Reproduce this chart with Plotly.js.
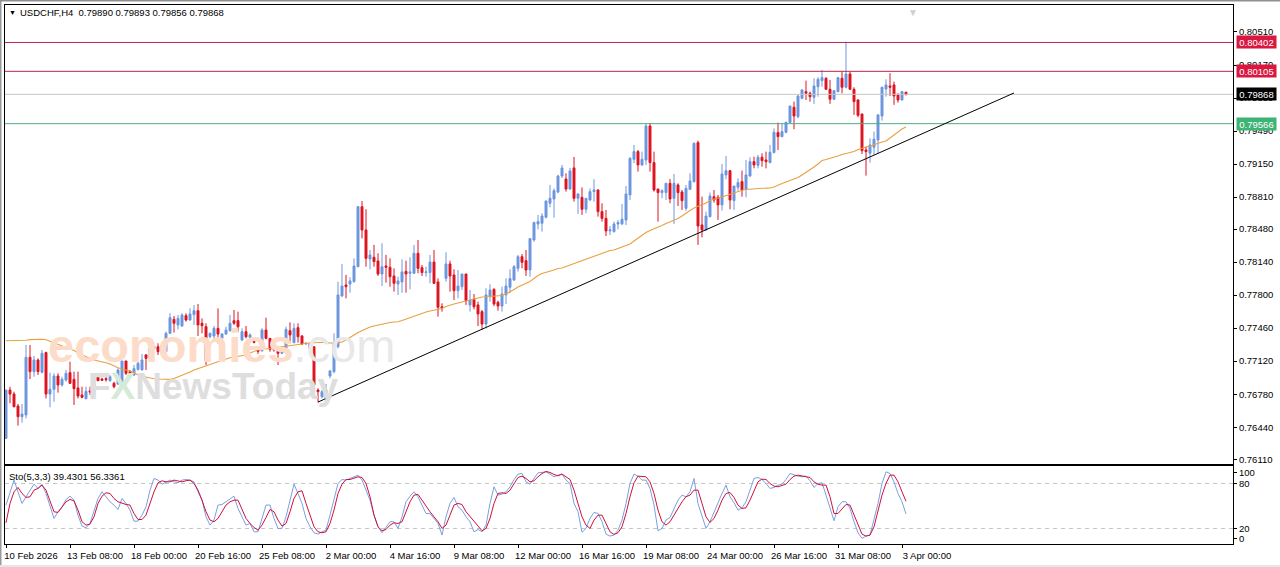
<!DOCTYPE html>
<html><head><meta charset="utf-8">
<script src="https://cdn.plot.ly/plotly-3.0.1.min.js"></script>
<style>html,body{margin:0;padding:0;background:#fff;overflow:hidden}#chart{width:1280px;height:567px}</style>
</head><body><div id="chart"></div>
<script>
// Prices in 1e-5 units, one per H4 bar
const openP=[76325,76823,76782,76658,76548,76566,77160,77012,77132,77005,
77208,76782,76830,76967,76875,76926,77002,76933,76844,76772,
76734,76813,76806,76960,76936,76940,76919,76892,76885,76909,
77122,77012,76978,77036,77029,77184,77149,77245,77269,77228,
77218,77407,77551,77493,77482,77589,77544,77599,77640,77510,
77475,77372,77379,77458,77355,77400,77434,77537,77537,77338,
77424,77366,77324,77235,77228,77441,77355,77252,77228,77201,
77218,77434,77311,77465,77379,77297,77304,77269,76823,76754,
76737,76967,77012,77269,77791,77905,77915,77939,78093,78711,
78471,78172,78190,78152,78018,78100,78087,77997,77915,77936,
78045,78025,78025,78231,78083,78032,78032,78141,77936,77681,
77973,78121,78008,77846,77887,78018,77699,77757,77699,77630,
77503,77784,77860,77726,77688,77802,77881,77956,78076,78196,
78155,78059,78368,78533,78540,78602,78746,78790,78862,79027,
78996,78893,79110,78797,78807,78684,78780,78866,78883,78660,
78591,78461,78454,78533,78533,78574,78832,79199,79278,79141,
79192,79542,79165,78893,78856,78856,78952,78797,78935,78862,
78694,78890,78969,79371,78523,78471,78608,78814,78808,78729,
79038,79082,78773,78911,78969,78890,79027,79175,79137,79220,
79192,79165,79268,79474,79432,79477,79577,79735,79638,79827,
79896,79879,79838,79947,80009,80033,79920,79817,79896,80033,
79941,80078,79920,79810,79666,79295,79261,79323,79398,79645,
79923,79954,79965,79862,79810,79890];
const highP=[76823,76857,76806,76679,76679,77287,77287,77173,77149,77235,
77218,77002,76995,76995,76960,77029,77115,77012,77012,76857,
76857,76857,76943,76978,76950,76960,76978,76909,77046,77122,
77122,77029,77081,77115,77194,77194,77287,77287,77304,77242,
77424,77613,77585,77596,77613,77613,77664,77699,77709,77561,
77510,77414,77482,77664,77407,77475,77596,77647,77630,77458,
77482,77407,77338,77249,77458,77568,77355,77269,77252,77235,
77475,77520,77510,77510,77390,77311,77311,77269,76840,76823,
76885,77029,77407,77938,78121,78008,77984,78179,78718,78770,
78684,78265,78317,78231,78334,78214,78179,78076,77990,78169,
78155,78190,78317,78368,78111,78093,78214,78265,77973,77716,
78241,78155,78066,78059,78018,78018,77853,77812,77733,77647,
77870,77911,77870,77743,77887,77973,78066,78111,78214,78224,
78265,78385,78557,78626,78643,78773,78935,78900,79038,79141,
79055,79110,79223,78849,78910,78797,78900,78993,78890,78746,
78677,78512,78557,78574,78739,78924,79220,79347,79295,79278,
79563,79570,79278,78893,78890,78952,78996,79048,78952,78883,
78935,79055,79371,79391,78814,78660,78856,78883,78832,79151,
79233,79089,78924,79003,79082,79192,79220,79226,79244,79261,
79278,79347,79518,79577,79570,79587,79748,79793,79862,79920,
80009,79896,80033,80044,80119,80044,80016,79913,80044,80102,
80411,80102,79941,79817,79666,79329,79415,79484,79666,79947,
80023,80085,79999,79879,79903,79893];
const lowP=[76325,76686,76645,76456,76487,76531,76936,76960,76978,76995,
76737,76645,76703,76796,76857,76909,76885,76669,76737,76737,
76727,76772,76772,76916,76916,76909,76909,76840,76875,76899,
76978,76967,76967,77022,77029,77029,77132,77235,77184,77184,
77208,77400,77414,77448,77475,77527,77537,77493,77379,77407,
77081,77355,77321,77304,77287,77390,77424,77493,77424,77331,
77355,77355,77304,77194,77218,77345,77218,77218,77081,77194,
77201,77304,77304,77311,77287,77290,77194,76806,76696,76737,
76720,76943,76995,77252,77784,77767,77826,77929,78087,78385,
78093,78066,78093,77997,77894,77929,77887,77836,77802,77826,
77826,77860,78018,78025,77997,77990,77922,77915,77578,77630,
77939,77836,77750,77767,77853,77699,77630,77654,77482,77441,
77458,77733,77688,77640,77630,77709,77819,77946,78042,78076,
77997,77990,78351,78478,78454,78591,78705,78598,78849,79007,
78866,78883,78763,78636,78626,78643,78773,78763,78608,78557,
78409,78420,78444,78478,78523,78523,78780,79158,79072,79130,
79141,79072,78866,78557,78797,78780,78746,78533,78718,78677,
78670,78883,78959,78317,78396,78464,78602,78753,78574,78670,
78993,78684,78677,78876,78814,78808,79020,79106,79106,79123,
79106,79158,79261,79295,79426,79467,79570,79508,79621,79817,
79810,79793,79769,79844,79947,79913,79769,79810,79889,79879,
79930,79913,79656,79632,79254,79031,79165,79244,79261,79597,
79844,79851,79759,79783,79803,79856];
const closeP=[76823,76782,76651,76548,76576,77160,77012,77132,77012,77201,
76782,76830,76967,76875,76933,76995,76892,76837,76761,76748,
76809,76803,76926,76919,76923,76930,76960,76857,77029,77122,
76995,76988,77043,77098,77132,77149,77252,77276,77218,77208,
77407,77568,77510,77561,77596,77544,77606,77640,77493,77486,
77125,77407,77458,77400,77400,77441,77510,77510,77475,77424,
77372,77390,77314,77221,77441,77355,77242,77235,77201,77218,
77448,77390,77458,77372,77297,77304,77249,76875,76806,76806,
76823,77019,77304,77802,77894,77887,77946,78100,78711,78471,
78179,78214,78145,78018,78093,78087,77990,77922,77946,78039,
78018,78039,78231,78076,78032,78039,78141,77922,77675,77668,
78121,77997,77846,77894,78018,77743,77750,77681,77606,77503,
77802,77853,77709,77688,77812,77894,77970,78093,78196,78138,
78059,78382,78547,78557,78615,78770,78797,78876,79027,79110,
78893,79079,78797,78842,78684,78797,78866,78883,78660,78591,
78461,78471,78533,78547,78581,78842,79209,79278,79141,79199,
79542,79165,78883,78856,78876,78952,78790,78952,78856,78773,
78900,78976,79364,78512,78471,78615,78821,78780,78729,79048,
79082,78780,78924,78959,78883,79038,79175,79141,79220,79185,
79175,79271,79477,79432,79484,79580,79748,79645,79851,79913,
79879,79844,79954,80023,80040,79920,79817,79906,80040,79941,
80078,79920,79793,79652,79288,79278,79347,79405,79656,79941,
79965,79941,79851,79810,79896,79868];
const maP=[77331,77331,77331,77331,77332,77335,77342,77345,77345,77345,
77340,77325,77312,77297,77281,77266,77253,77230,77204,77183,
77163,77147,77132,77124,77113,77104,77091,77070,77053,77039,
77032,77019,76998,76977,76965,76955,76947,76939,76936,76934,
76933,76933,76941,76957,76972,76993,77008,77029,77044,77060,
77075,77088,77101,77114,77129,77142,77156,77163,77168,77173,
77183,77204,77220,77235,77240,77245,77250,77256,77266,77271,
77276,77281,77286,77292,77297,77304,77309,77312,77313,77314,
77309,77305,77305,77309,77317,77338,77367,77389,77415,77436,
77456,77472,77482,77492,77503,77511,77518,77523,77526,77539,
77554,77570,77585,77601,77614,77626,77637,77647,77652,77662,
77683,77698,77709,77719,77729,77740,77750,77765,77776,77781,
77783,77786,77789,77791,77796,77812,77832,77858,77884,77904,
77920,77941,77971,78002,78023,78033,78044,78059,78074,78080,
78095,78110,78126,78141,78155,78167,78183,78198,78213,78229,
78244,78260,78265,78280,78296,78311,78327,78358,78389,78419,
78445,78466,78481,78497,78517,78538,78553,78569,78589,78615,
78646,78672,78698,78713,78728,78749,78775,78790,78801,78811,
78826,78842,78857,78873,78881,78888,78893,78896,78898,78901,
78902,78904,78914,78934,78950,78965,78981,78996,79012,79037,
79063,79089,79120,79151,79187,79197,79207,79223,79233,79249,
79259,79269,79280,79300,79316,79326,79336,79352,79367,79377,
79388,79419,79449,79480,79511,79532];
const stoK=[51.2,68.9,84.5,68.9,53.4,62.3,71.1,79.1,73.4,79.1,66.7,48.9,33.4,42.3,48.9,58.7,63.1,57.8,37.8,23.2,
21,26.7,44.5,60,68.9,62.3,55.6,51.2,45.4,60,53.4,44.5,29.8,29.8,37.8,48.9,71.1,86.7,84.5,79.1,
82.2,84.5,82.2,80.9,84.5,85.3,84.5,82.2,68.9,57.8,35.6,24.5,31.2,51.2,52,55.6,58.7,63.1,46.7,34.7,
24.5,26.7,15.6,15.6,33.4,51.2,51.2,33.4,20.1,20.1,35.6,55.6,79.1,66.7,53.4,33.4,22.3,14.3,12.5,15.6,
17.8,37.8,57.8,80,85.3,84.5,86.7,88.9,91.1,84.5,71.1,57.8,37.8,22.3,14.3,22.3,29,29,20.1,35.6,
55.6,63.1,68.9,62.3,51.2,40,40,33.4,26.7,11.2,35.6,53.4,61.4,48.9,
44.5,35.6,29,15.6,18.7,15.6,24.5,53.4,75.6,64.5,65.8,68.9,75.6,85.3,92.5,93.3,82.2,79.1,86.7,94.2,
94.7,95.6,92.5,88.9,91.1,92.5,84.5,80,53.4,42.3,14.8,20.1,33.4,41.4,40,29,12.5,9.9,11.2,17.8,
31.2,53.4,80,92.5,89.8,84.5,84.5,73.4,51.2,17,20.1,31.2,34.7,46.7,57.8,64.5,62.3,68.9,86.7,53.4,
35.6,20.1,29,42.3,55.6,66.7,77.8,62.3,54.3,44.5,47.6,55.6,71.1,86.7,88,85.3,80,73.4,74.7,77.8,
79.1,85.3,93.3,91.1,89.8,88.9,89.8,83.6,74.7,80,80.9,64.5,46.7,30.3,48.9,55.6,55.6,46.7,29,14.3,
6.8,9.9,11.2,31.2,53.4,80,95.6,93.3,82.2,66.7,55.6,39.43];
const stoD=[27.6,53.4,68.9,74.7,66.7,61.4,62.3,71.1,73.4,77.8,71.1,55.6,42.3,41.4,48.9,55.6,58.7,56.9,44.5,29,
24.5,25.9,35.6,53.4,63.1,67.6,66.7,60,55.6,53.4,52,51.2,40,32,32,37.8,53.4,68.9,80.9,83.6,
82.2,82.2,84.5,83.6,82.2,83.6,84.5,80,71.1,57.8,42.3,31.2,29,33.4,42.3,51.2,55.6,57.8,57.8,46.7,
33.4,26.7,21.4,17.8,24.5,34.7,45.4,42.3,31.2,23.2,26.7,42.3,60,68.9,70.3,53.4,37.8,22.3,15.6,14.3,
15.6,26.7,44.5,66.7,79.1,85.3,85.3,86.7,88.9,88,80,62.3,37.8,22.3,17,18.7,24.5,27.6,26.7,29,
42.3,55.6,64.5,65.4,57.8,49.8,42.3,35.6,29,20.1,24.5,37.8,51.2,53.4,
52,42.3,35.6,29,22.3,17,20.1,33.4,53.4,66.7,67.6,66.7,71.1,79.1,88,89.8,86.7,82.2,83.6,88.9,
93.3,96,94.7,92,90.2,92.5,88.9,85.3,71.1,53.4,35.6,24.5,20.1,31.2,37.8,37.8,26.7,15.6,12.1,14.3,
22.3,40,62.3,80.9,89.8,89.8,88.9,82.2,66.7,44.5,29,24.5,29,37.8,46.7,55.6,62.3,64.5,71.1,71.1,
53.4,35.6,28.1,33.4,44.5,57.8,66.7,68,61.4,51.2,46.7,47.6,57.8,71.1,82.2,85.8,85.3,80,76.5,75.6,
77.8,79.1,85.3,89.8,91.1,90.2,89.8,88,82.2,79.1,77.8,77.8,62.3,40,40,46.7,52,51.2,37.8,24.5,
12.5,9.9,11.2,22.3,42.3,64.5,80,91.1,91.1,82.2,68.9,56.34];
const priceTicks=[0.8051,0.8017,0.7983,0.7949,0.7915,0.7881,0.7848,0.7814,0.778,0.7746,0.7712,0.7678,0.7644,0.7611];
const priceTickText=['0.80510','0.80170','0.79830','0.79490','0.79150','0.78810','0.78480','0.78140','0.77800','0.77460','0.77120','0.76780','0.76440','0.76110'];
const timeTicks=[0,16,32,48,64,80,96,112,128,144,160,176,192,208,224];
const timeLabels=['10 Feb 2026','13 Feb 08:00','18 Feb 00:00','20 Feb 16:00','25 Feb 08:00','2 Mar 00:00','4 Mar 16:00','9 Mar 08:00','12 Mar 00:00','16 Mar 16:00','19 Mar 08:00','24 Mar 00:00','26 Mar 16:00','31 Mar 08:00','3 Apr 00:00'];
const levels=[0.80402,0.80105,0.79868,0.79566];
const levelLabels=['0.80402','0.80105','0.79868','0.79566'];
const levelColors=['#b8274f','#b8274f','#c4c4c4','#4fae7d'];
const tagColors=['#d9173f','#d9173f','#000000','#3cb474'];
const trendBars=[78,252];
const trendPrices=[0.76699,0.79882];
const stoTicks=[94,80,20,7];
const stoTickText=['100','80','20','0'];
const stoLevels=[80,20];

const FONT='"Liberation Sans", Arial, sans-serif';
const W=1228,H=539;
const bars=openP.map((_,i)=>i);
const px=a=>a.map(v=>v/1e5);
const xRange=[-0.25,306.75];
const traces=[];
levels.forEach((l,i)=>traces.push({type:'scatter',mode:'lines',x:xRange,y:[l,l],line:{color:levelColors[i],width:1},xaxis:'x',yaxis:'y',hoverinfo:'skip'}));
traces.push({type:'candlestick',x:bars,open:px(openP),high:px(highP),low:px(lowP),close:px(closeP),xaxis:'x',yaxis:'y',whiskerwidth:0,
  increasing:{line:{color:'#6c96de',width:1},fillcolor:'#6c96de'},decreasing:{line:{color:'#dc1420',width:1},fillcolor:'#dc1420'},hoverinfo:'skip'});
traces.push({type:'scatter',mode:'lines',x:bars,y:px(maP),line:{color:'#e8a040',width:1.1},xaxis:'x',yaxis:'y',hoverinfo:'skip'});
traces.push({type:'scatter',mode:'lines',x:trendBars,y:trendPrices,line:{color:'#000',width:1},xaxis:'x',yaxis:'y',hoverinfo:'skip'});
stoLevels.forEach(l=>traces.push({type:'scatter',mode:'lines',x:xRange,y:[l,l],line:{color:'#c4c4c4',width:1,dash:'4px,4px'},xaxis:'x2',yaxis:'y2',hoverinfo:'skip'}));
traces.push({type:'scatter',mode:'lines',x:bars,y:stoK,line:{color:'#7aa0e0',width:1},xaxis:'x2',yaxis:'y2',hoverinfo:'skip'});
traces.push({type:'scatter',mode:'lines',x:bars,y:stoD,line:{color:'#d0103a',width:1},xaxis:'x2',yaxis:'y2',hoverinfo:'skip'});

const ax=v=>(v-5)/W, ay=v=>(544-v)/H;
const annotations=[
 {xref:'paper',yref:'paper',x:ax(7),y:ay(12),xanchor:'left',yanchor:'middle',text:'\u25BC',showarrow:false,font:{family:FONT,size:7,color:'#000'}},
 {xref:'paper',yref:'paper',x:ax(18),y:ay(12.5),xanchor:'left',yanchor:'middle',text:'USDCHF,H4&nbsp;&nbsp;0.79890 0.79893 0.79856 0.79868',showarrow:false,font:{family:FONT,size:9.5,color:'#000'}},
 {xref:'x',yref:'paper',x:226.75,y:1,xanchor:'center',yanchor:'top',text:'\u25BC',showarrow:false,font:{family:FONT,size:10,color:'#cfcfcf'}},
 {xref:'paper',yref:'paper',x:ax(7),y:ay(476),xanchor:'left',yanchor:'middle',text:'Sto(5,3,3) 39.4301 56.3361',showarrow:false,font:{family:FONT,size:9.5,color:'#000'}},
 {xref:'paper',yref:'paper',x:ax(46),y:ay(345),xanchor:'left',yanchor:'middle',text:'<span style="color:#fcdcc8"><b>economies</b></span><span style="color:#e8e8e8">.com</span>',showarrow:false,font:{family:FONT,size:47,color:'#fcdcc8'}},
 {xref:'paper',yref:'paper',x:ax(86),y:ay(386),xanchor:'left',yanchor:'middle',text:'<b><span style="color:#dedede">F</span><span style="color:#d6ead8">X</span><span style="color:#dedede">NewsToday</span></b>',showarrow:false,font:{family:FONT,size:37,color:'#dedede'}}
];
levels.forEach((l,i)=>annotations.push({xref:'paper',yref:'y',x:1,xshift:3,y:l,xanchor:'left',yanchor:'middle',text:levelLabels[i],showarrow:false,bgcolor:tagColors[i],width:39,height:12,borderpad:0,font:{family:FONT,size:9.5,color:'#fff'}}));

const layout={width:1280,height:567,margin:{l:5,r:47,t:5,b:23,pad:0},paper_bgcolor:'#fff',plot_bgcolor:'#fff',showlegend:false,
 xaxis:{domain:[0,1],range:xRange,anchor:'y',showgrid:false,zeroline:false,showline:true,mirror:true,linecolor:'#000',linewidth:1,showticklabels:false,ticks:'',rangeslider:{visible:false},fixedrange:true},
 yaxis:{domain:[80/H,1],range:[0.76061,0.80788],side:'right',anchor:'x',tickmode:'array',tickvals:priceTicks,ticktext:priceTickText,ticks:'outside',ticklen:3,tickcolor:'#000',showgrid:false,zeroline:false,showline:true,mirror:true,linecolor:'#000',linewidth:1,tickfont:{family:FONT,size:9.5,color:'#000'},fixedrange:true},
 xaxis2:{domain:[0,1],range:xRange,anchor:'y2',tickmode:'array',tickvals:timeTicks,ticktext:timeLabels,ticks:'outside',ticklen:3,tickcolor:'#000',ticklabelshift:25,tickangle:0,showgrid:false,zeroline:false,showline:true,mirror:true,linecolor:'#000',linewidth:1,tickfont:{family:FONT,size:9.5,color:'#000'},fixedrange:true},
 yaxis2:{domain:[0,78/H],range:[-0.67,103.3],side:'right',anchor:'x2',tickmode:'array',tickvals:stoTicks,ticktext:stoTickText,ticks:'outside',ticklen:3,tickcolor:'#000',showgrid:false,zeroline:false,showline:true,mirror:true,linecolor:'#000',linewidth:1,tickfont:{family:FONT,size:9.5,color:'#000'},fixedrange:true},
 annotations:annotations,
 shapes:[
  {type:'rect',xref:'paper',yref:'paper',x0:ax(0),x1:ax(1.5),y0:ay(567),y1:ay(0),fillcolor:'#9a9a9a',line:{width:0},layer:'below'},
  {type:'rect',xref:'paper',yref:'paper',x0:ax(0),x1:ax(1280),y0:ay(1.5),y1:ay(0),fillcolor:'#8f8f8f',line:{width:0},layer:'below'},
  {type:'rect',xref:'paper',yref:'paper',x0:ax(0),x1:ax(1280),y0:ay(567),y1:ay(565),fillcolor:'#e6e6e6',line:{width:0},layer:'below'}
 ]};
Plotly.newPlot('chart',traces,layout,{staticPlot:true,displayModeBar:false});
</script></body></html>
